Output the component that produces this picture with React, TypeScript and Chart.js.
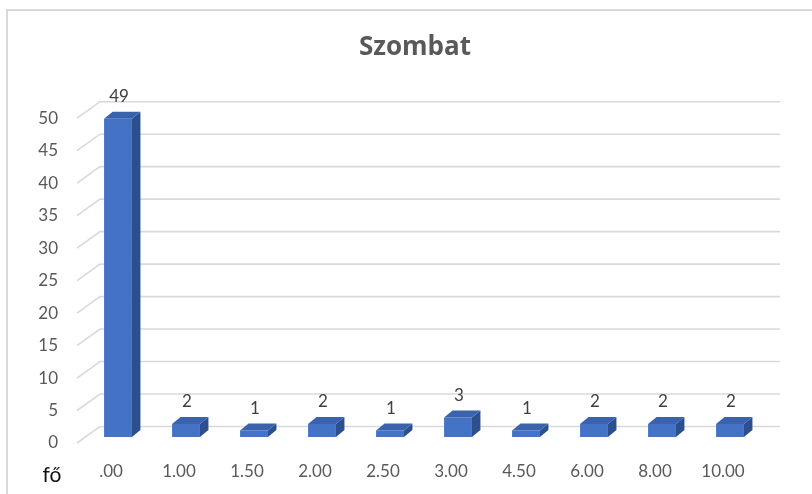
import React, { useEffect, useRef } from 'react';
import { Chart, registerables } from 'chart.js';

Chart.register(...registerables);

// ---- data ----
const categories = ['.00', '1.00', '1.50', '2.00', '2.50', '3.00', '4.50', '6.00', '8.00', '10.00'];
const values = [49, 2, 1, 2, 1, 3, 1, 2, 2, 2];
const yMin = 0;
const yMax = 50;
const yStep = 5;
const chartTitle = 'Szombat';
const unitLabel = 'fő';

// ---- 3D look ----
const WALL_DX = 23;
const WALL_DY = -16.5;
const BAR_OX = 7;
const BAR_OY = -6;
const BAR_DX = 8.5;
const BAR_DY = -7;

const FRONT = '#4472C4';
const TOP = '#3A63AE';
const SIDE = '#2C4F8E';
const GRID = '#d9d9d9';
const FONT = 'Lato, "Open Sans", sans-serif';

const threeD = {
  id: 'threeD',
  beforeDraw(chart: any) {
    const ctx = chart.ctx;
    ctx.save();
    ctx.fillStyle = '#ffffff';
    ctx.fillRect(0, 0, chart.width, chart.height);
    ctx.fillStyle = '#d9d9d9';
    ctx.fillRect(6, 9, chart.width, 2);
    ctx.fillRect(6, 9, 2, chart.height);
    ctx.restore();
  },
  afterLayout(chart: any) {
    if (chart.titleBlock) {
      chart.titleBlock.left = 18;
      chart.titleBlock.right = 812;
    }
  },
  beforeDatasetsDraw(chart: any) {
    const ctx = chart.ctx;
    const y = chart.scales.y;
    const area = chart.chartArea;
    ctx.save();
    ctx.strokeStyle = GRID;
    ctx.lineWidth = 1.6;
    y.ticks.forEach((t: any) => {
      const py = y.getPixelForValue(t.value);
      ctx.beginPath();
      ctx.moveTo(area.left, py);
      ctx.lineTo(area.left + WALL_DX, py + WALL_DY);
      ctx.lineTo(area.right + WALL_DX, py + WALL_DY);
      ctx.stroke();
    });
    ctx.restore();
    ctx.save();
    ctx.translate(BAR_OX, BAR_OY);
  },
  afterDatasetsDraw(chart: any) {
    const ctx = chart.ctx;
    ctx.restore();
    const meta = chart.getDatasetMeta(0);
    ctx.save();
    meta.data.forEach((bar: any, i: number) => {
      const p = bar.getProps(['x', 'y', 'width', 'base'], true);
      const left = p.x - p.width / 2 + BAR_OX;
      const right = p.x + p.width / 2 + BAR_OX;
      const top = p.y + BAR_OY;
      const bottom = p.base + BAR_OY;
      // side face
      ctx.fillStyle = SIDE;
      ctx.beginPath();
      ctx.moveTo(right, top);
      ctx.lineTo(right + BAR_DX, top + BAR_DY);
      ctx.lineTo(right + BAR_DX, bottom + BAR_DY);
      ctx.lineTo(right, bottom);
      ctx.closePath();
      ctx.fill();
      // top face
      ctx.fillStyle = TOP;
      ctx.beginPath();
      ctx.moveTo(left, top);
      ctx.lineTo(left + BAR_DX, top + BAR_DY);
      ctx.lineTo(right + BAR_DX, top + BAR_DY);
      ctx.lineTo(right, top);
      ctx.closePath();
      ctx.fill();
      // value label
      ctx.fillStyle = '#404040';
      ctx.font = `17px ${FONT}`;
      ctx.textAlign = 'center';
      ctx.textBaseline = 'middle';
      ctx.fillText(String(values[i]), p.x + BAR_OX + 1, top - 22);
    });
    // unit label
    ctx.fillStyle = '#111111';
    ctx.font = `21px ${FONT}`;
    ctx.textAlign = 'center';
    ctx.textBaseline = 'alphabetic';
    ctx.fillText(unitLabel, 52, 482);
    ctx.restore();
  },
};

export default function App() {
  const ref = useRef<HTMLCanvasElement | null>(null);
  useEffect(() => {
    if (!ref.current) return;
    const chart = new Chart(ref.current, {
      type: 'bar',
      data: {
        labels: categories,
        datasets: [
          {
            data: values,
            backgroundColor: FRONT,
            borderWidth: 0,
            barPercentage: 0.41,
            categoryPercentage: 1,
          },
        ],
      },
      options: {
        responsive: false,
        animation: false,
        devicePixelRatio: 1,
        layout: { padding: { left: 18, right: 55, top: 0, bottom: 0 } },
        plugins: {
          legend: { display: false },
          tooltip: { enabled: false },
          title: {
            display: true,
            text: chartTitle,
            color: '#595959',
            font: { family: '"Open Sans", sans-serif', size: 26, weight: 'bold', lineHeight: 1.2 },
            padding: { top: 32, bottom: 55 },
          },
        },
        scales: {
          x: {
            grid: { display: false, drawTicks: false },
            border: { display: false },
            ticks: {
              color: '#595959',
              font: { family: FONT, size: 17 },
              padding: 18,
              autoSkip: false,
              maxRotation: 0,
            },
            afterFit(scale: any) {
              scale.height = 51;
            },
          },
          y: {
            min: yMin,
            max: yMax,
            grid: { display: false, drawTicks: false },
            border: { display: false },
            ticks: {
              stepSize: yStep,
              color: '#595959',
              font: { family: FONT, size: 17 },
              padding: 19,
            },
            afterFit(scale: any) {
              scale.width = 59;
            },
          },
        },
      } as any,
      plugins: [threeD],
    });
    return () => chart.destroy();
  }, []);
  return (
    <div style={{ position: 'absolute', left: 0, top: 0, width: 812, height: 494, background: '#fff' }}>
      <canvas ref={ref} width={812} height={494} style={{ display: 'block' }} />
    </div>
  );
}
